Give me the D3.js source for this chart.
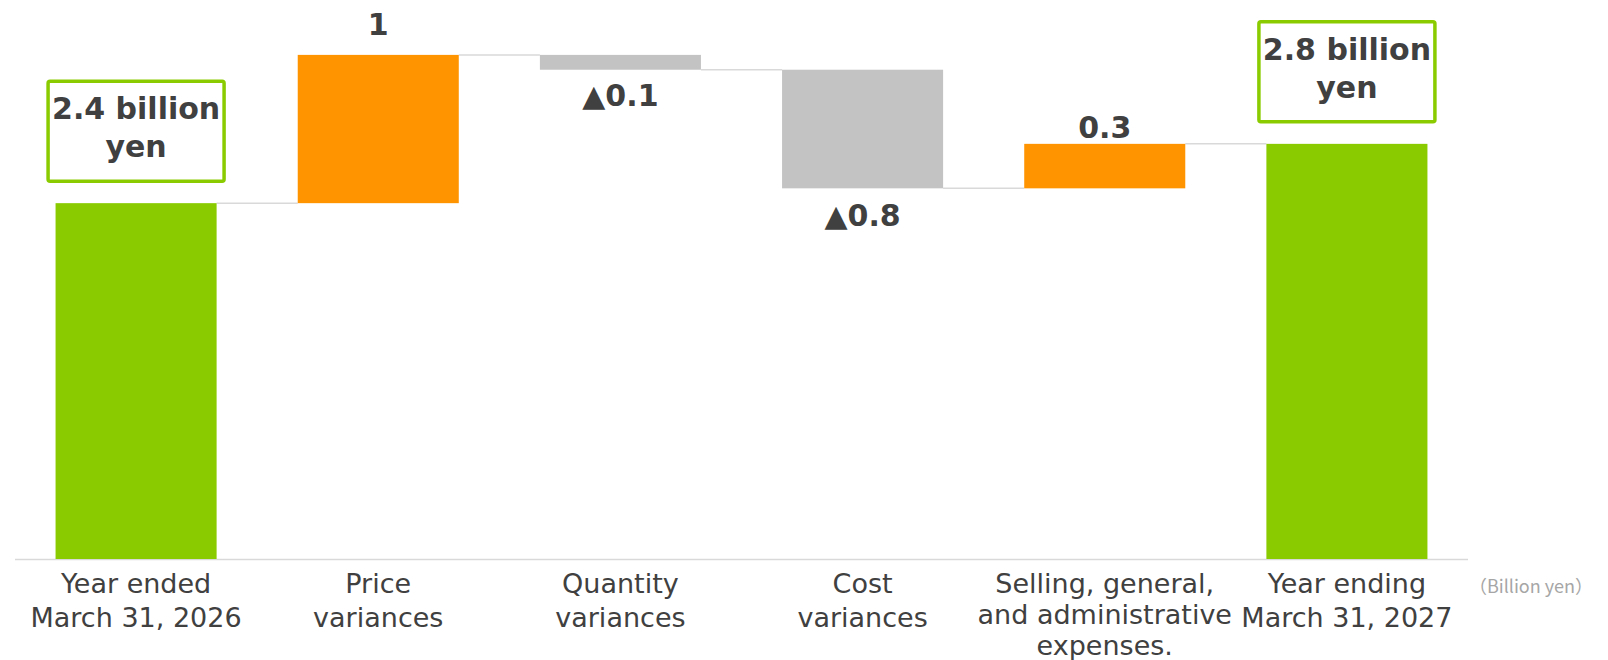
<!DOCTYPE html>
<html>
<head>
<meta charset="utf-8">
<script src="https://cdn.jsdelivr.net/npm/d3@7"></script>
<style>
  body { margin: 0; background: #fff; }
  svg { display: block; }
</style>
</head>
<body>
<div id="chart"></div>
<script>
// chart data
const categories = ["start", "price", "quantity", "cost", "sga", "end"]
const categoryLines = [
  ["Year ended", "March 31, 2026"],
  ["Price", "variances"],
  ["Quantity", "variances"],
  ["Cost", "variances"],
  ["Selling, general,", "and administrative", "expenses."],
  ["Year ending", "March 31, 2027"]
]
const values = [2.4, 1.0, -0.1, -0.8, 0.3, 2.8]
const kinds = ["total", "delta", "delta", "delta", "delta", "total"]
const valueLabels = [["2.4 billion", "yen"], ["1"], ["▲0.1"], ["▲0.8"], ["0.3"], ["2.8 billion", "yen"]]
const unitLabel = "（Billion yen）"

const width = 1608
const height = 660
const axisY = 559

// build the waterfall steps
let running = 0
const data = categories.map((c, i) => {
  let start, end
  if (kinds[i] === "total") {
    start = 0
    end = values[i]
  } else {
    start = running
    end = running + values[i]
  }
  running = end
  return { cat: c, i, kind: kinds[i], value: values[i], start, end, lines: categoryLines[i], label: valueLabels[i] }
})
console.log('data', data)

const colors = { total: "#8ACB00", up: "#FF9300", down: "#C3C3C3" }
const textColor = "#404040"
const colorOf = d => d.kind === "total" ? colors.total : (d.value >= 0 ? colors.up : colors.down)

const xScale = d3.scaleBand()
  .domain(categories)
  .range([15, 1468])
  .paddingInner(0.335)
  .paddingOuter(0.335 / 2)

const yScale = d3.scaleLinear()
  .domain([0, 3.75])
  .range([axisY, 3])

const svg = d3.select("#chart")
  .append("svg")
  .attr("width", width)
  .attr("height", height)
  .style("font-family", "'DejaVu Sans', Verdana, sans-serif")

// axis line
svg.append("line")
  .attr("x1", xScale.range()[0])
  .attr("x2", xScale.range()[1])
  .attr("y1", axisY + 0.5)
  .attr("y2", axisY + 0.5)
  .attr("stroke", "#D9D9D9")
  .attr("stroke-width", 1.5)

// connectors
svg.selectAll("line.connector")
  .data(data.slice(0, -1))
  .join("line")
  .attr("class", "connector")
  .attr("x1", d => xScale(d.cat) + xScale.bandwidth())
  .attr("x2", d => xScale(categories[d.i + 1]))
  .attr("y1", d => yScale(d.end))
  .attr("y2", d => yScale(d.end))
  .attr("stroke", "#D9D9D9")
  .attr("stroke-width", 1.5)

// bars
svg.selectAll("rect.bar")
  .data(data)
  .join("rect")
  .attr("class", "bar")
  .attr("x", d => xScale(d.cat))
  .attr("width", xScale.bandwidth())
  .attr("y", d => yScale(Math.max(d.start, d.end)))
  .attr("height", d => Math.abs(yScale(d.start) - yScale(d.end)))
  .attr("fill", colorOf)

// delta labels (small nudges to sit like the original)
const labelNudge = { price: -20, quantity: 36, cost: 38, sga: -6 }
svg.selectAll("text.delta")
  .data(data.filter(d => d.kind === "delta"))
  .join("text")
  .attr("class", "delta")
  .attr("x", d => xScale(d.cat) + xScale.bandwidth() / 2)
  .attr("y", d => yScale(d.end) + labelNudge[d.cat])
  .attr("text-anchor", "middle")
  .style("font-size", "30px")
  .style("font-weight", "bold")
  .style("fill", textColor)
  .text(d => d.label[0])

// total labels in boxes
const boxW = 176, boxH = 100, boxGap = 22
const totals = svg.selectAll("g.total")
  .data(data.filter(d => d.kind === "total"))
  .join("g")
  .attr("class", "total")
  .attr("transform", d => `translate(${xScale(d.cat) + xScale.bandwidth() / 2},${yScale(d.end) - boxGap - boxH})`)

totals.append("rect")
  .attr("x", -boxW / 2)
  .attr("y", 0)
  .attr("width", boxW)
  .attr("height", boxH)
  .attr("rx", 2)
  .attr("fill", "#fff")
  .attr("stroke", colors.total)
  .attr("stroke-width", 3.5)

totals.selectAll("text")
  .data(d => d.label)
  .join("text")
  .attr("x", 0)
  .attr("y", (t, j) => 38 + j * 38)
  .attr("text-anchor", "middle")
  .style("font-size", "30px")
  .style("font-weight", "bold")
  .style("fill", textColor)
  .text(t => t)

// category labels
const catText = svg.selectAll("text.category")
  .data(data)
  .join("text")
  .attr("class", "category")
  .attr("x", d => xScale(d.cat) + xScale.bandwidth() / 2)
  .attr("y", 593)
  .attr("text-anchor", "middle")
  .style("font-size", "27px")
  .style("fill", textColor)

catText.selectAll("tspan")
  .data(d => d.lines.map(l => ({ l, x: xScale(d.cat) + xScale.bandwidth() / 2, n: d.lines.length })))
  .join("tspan")
  .attr("x", t => t.x)
  .attr("dy", (t, j) => j === 0 ? 0 : (t.n > 2 ? 31 : 34))
  .text(t => t.l)

// unit label
svg.append("text")
  .attr("x", 1531)
  .attr("y", 593)
  .attr("text-anchor", "middle")
  .style("font-family", "'Noto Sans CJK JP', sans-serif")
  .style("font-size", "18px")
  .style("fill", "#A6A6A6")
  .text(unitLabel)
</script>
</body>
</html>
